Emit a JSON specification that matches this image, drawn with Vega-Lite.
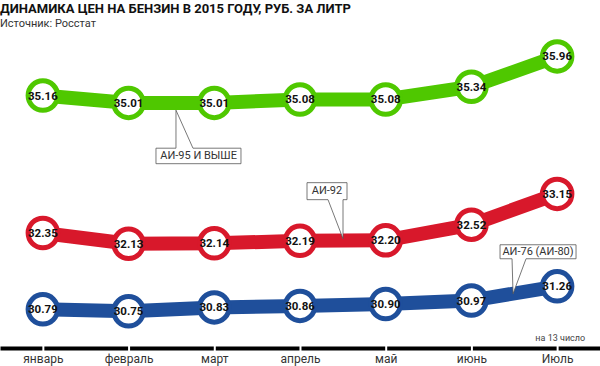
{
  "$schema": "https://vega.github.io/schema/vega-lite/v6.json",
  "width": 600,
  "height": 318,
  "autosize": "none",
  "padding": {"top": 30, "left": 0, "right": 0, "bottom": 18},
  "background": "white",
  "title": {
    "text": "ДИНАМИКА ЦЕН НА БЕНЗИН В 2015 ГОДУ, РУБ. ЗА ЛИТР",
    "subtitle": "Источник: Росстат",
    "anchor": "start",
    "frame": "group",
    "offset": -1,
    "font": "Roboto, sans-serif",
    "fontSize": 13,
    "fontWeight": "bold",
    "color": "#111111",
    "subtitleFont": "Roboto, sans-serif",
    "subtitleFontSize": 11,
    "subtitleColor": "#333333",
    "subtitlePadding": 2
  },
  "config": {"view": {"stroke": null}},
  "data": {
    "values": [
      {"month": "январь", "fuel": "АИ-95 и выше", "price": 35.16},
      {"month": "февраль", "fuel": "АИ-95 и выше", "price": 35.01},
      {"month": "март", "fuel": "АИ-95 и выше", "price": 35.01},
      {"month": "апрель", "fuel": "АИ-95 и выше", "price": 35.08},
      {"month": "май", "fuel": "АИ-95 и выше", "price": 35.08},
      {"month": "июнь", "fuel": "АИ-95 и выше", "price": 35.34},
      {"month": "Июль", "fuel": "АИ-95 и выше", "price": 35.96},
      {"month": "январь", "fuel": "АИ-92", "price": 32.35},
      {"month": "февраль", "fuel": "АИ-92", "price": 32.13},
      {"month": "март", "fuel": "АИ-92", "price": 32.14},
      {"month": "апрель", "fuel": "АИ-92", "price": 32.19},
      {"month": "май", "fuel": "АИ-92", "price": 32.20},
      {"month": "июнь", "fuel": "АИ-92", "price": 32.52},
      {"month": "Июль", "fuel": "АИ-92", "price": 33.15},
      {"month": "январь", "fuel": "АИ-76", "price": 30.79},
      {"month": "февраль", "fuel": "АИ-76", "price": 30.75},
      {"month": "март", "fuel": "АИ-76", "price": 30.83},
      {"month": "апрель", "fuel": "АИ-76", "price": 30.86},
      {"month": "май", "fuel": "АИ-76", "price": 30.90},
      {"month": "июнь", "fuel": "АИ-76", "price": 30.97},
      {"month": "Июль", "fuel": "АИ-76", "price": 31.26}
    ]
  },
  "encoding": {
    "x": {
      "field": "month",
      "type": "ordinal",
      "sort": ["январь", "февраль", "март", "апрель", "май", "июнь", "Июль"],
      "scale": {"type": "point", "padding": 0.5},
      "axis": {
        "title": null,
        "orient": "bottom",
        "domain": true,
        "domainColor": "#000000",
        "domainWidth": 4,
        "domainDash": [83.71, 2],
        "domainDashOffset": 41.85,
        "ticks": false,
        "grid": false,
        "labelAngle": 0,
        "labelFont": "Roboto, sans-serif",
        "labelFontSize": 12,
        "labelColor": "#333333",
        "labelPadding": 5
      }
    },
    "y": {
      "field": "price",
      "type": "quantitative",
      "scale": {"domain": [30, 36.5], "zero": false, "nice": false},
      "axis": null
    }
  },
  "layer": [
    {
      "mark": {"type": "line", "strokeWidth": 14, "strokeJoin": "miter"},
      "encoding": {
        "color": {
          "field": "fuel",
          "type": "nominal",
          "scale": {"domain": ["АИ-95 и выше", "АИ-92", "АИ-76"], "range": ["#4fc800", "#d8182b", "#1f4f9b"]},
          "legend": null
        }
      }
    },
    {
      "data": {"values": [{"month": "февраль", "price": 35.01, "label": "АИ-95 И ВЫШЕ"}]},
      "mark": {"type": "point", "filled": true, "fill": "white", "stroke": "#555555", "strokeWidth": 0.8, "opacity": 1, "size": 4,
        "shape": "M47.4,7.3 L47.4,45.3 L27.4,45.3 L27.4,60.8 L112.4,60.8 L112.4,45.3 L64.4,45.3 Z"}
    },
    {
      "data": {"values": [{"month": "февраль", "price": 35.01, "label": "АИ-95 И ВЫШЕ"}]},
      "mark": {"type": "text", "dx": 70, "dy": 53, "align": "center", "baseline": "middle", "font": "Roboto, sans-serif", "fontSize": 11, "color": "#333333"},
      "encoding": {"text": {"field": "label"}}
    },
    {
      "data": {"values": [{"month": "май", "price": 32.20, "label": "АИ-92"}]},
      "mark": {"type": "point", "filled": true, "fill": "white", "stroke": "#555555", "strokeWidth": 0.8, "opacity": 1, "size": 4,
        "shape": "M-42.7,-1.7 L-42.7,-40.7 L-38.7,-40.7 L-38.7,-57.7 L-78.7,-57.7 L-78.7,-40.7 L-57.7,-40.7 Z"}
    },
    {
      "data": {"values": [{"month": "май", "price": 32.20, "label": "АИ-92"}]},
      "mark": {"type": "text", "dx": -58.7, "dy": -49.2, "align": "center", "baseline": "middle", "font": "Roboto, sans-serif", "fontSize": 11, "color": "#333333"},
      "encoding": {"text": {"field": "label"}}
    },
    {
      "data": {"values": [{"month": "Июль", "price": 31.26, "label": "АИ-76 (АИ-80)"}]},
      "mark": {"type": "point", "filled": true, "fill": "white", "stroke": "#555555", "strokeWidth": 0.8, "opacity": 1, "size": 4,
        "shape": "M-44.1,7.4 L-45.1,-27.6 L-57.1,-27.6 L-57.1,-41.6 L18.9,-41.6 L18.9,-27.6 L-31.1,-27.6 Z"}
    },
    {
      "data": {"values": [{"month": "Июль", "price": 31.26, "label": "АИ-76 (АИ-80)"}]},
      "mark": {"type": "text", "dx": -19.1, "dy": -34.6, "align": "center", "baseline": "middle", "font": "Roboto, sans-serif", "fontSize": 11, "color": "#333333"},
      "encoding": {"text": {"field": "label"}}
    },
    {
      "mark": {"type": "point", "filled": true, "fill": "white", "strokeWidth": 5, "size": 870, "opacity": 1},
      "encoding": {
        "stroke": {
          "field": "fuel",
          "type": "nominal",
          "scale": {"domain": ["АИ-95 и выше", "АИ-92", "АИ-76"], "range": ["#4fc800", "#d8182b", "#1f4f9b"]},
          "legend": null
        }
      }
    },
    {
      "mark": {"type": "text", "align": "center", "baseline": "middle", "dy": 1, "font": "Roboto, sans-serif", "fontSize": 11.5, "fontWeight": "bold", "color": "#111111"},
      "encoding": {"text": {"field": "price", "type": "quantitative", "format": ".2f"}}
    },
    {
      "data": {"values": [{"month": "Июль", "price": 30, "label": "на 13 число"}]},
      "mark": {"type": "text", "align": "right", "baseline": "middle", "dx": 28, "dy": -10, "font": "Roboto, sans-serif", "fontSize": 9, "color": "#444444"},
      "encoding": {"text": {"field": "label"}}
    }
  ]
}
